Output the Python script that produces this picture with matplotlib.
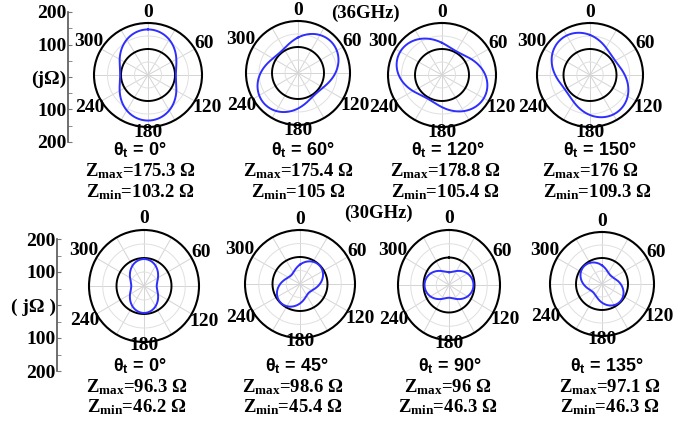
import numpy as np
import matplotlib
matplotlib.use("Agg")
import matplotlib.pyplot as plt

plt.rcParams['mathtext.fontset'] = 'custom'
plt.rcParams['mathtext.rm'] = 'Liberation Serif:bold'
plt.rcParams['mathtext.it'] = 'Liberation Serif:bold'
plt.rcParams['mathtext.bf'] = 'Liberation Serif:bold'
plt.rcParams['mathtext.sf'] = 'Liberation Sans:bold'

# 36 GHz row
theta_t_36 = [0, 60, 120, 150]
zmax_36 = [175.3, 175.4, 178.8, 176]
zmin_36 = [103.2, 105, 105.4, 109.3]
peak_36 = [0, 48, 120, 145]      # direction of the long axis

# 30 GHz row
theta_t_30 = [0, 45, 90, 135]
zmax_30 = [96.3, 98.6, 96, 97.1]
zmin_30 = [46.2, 45.4, 46.3, 46.3]
peak_30 = [0, 45, 90, 135]

angle_labels = [0, 60, 120, 180, 240, 300]
axis_ticks = [200, 100, 0, -100, -200]

W, H = 693, 421
fig = plt.figure(figsize=(W / 100, H / 100), dpi=100)

SERIF = dict(family='Liberation Serif', weight='bold')
SANS = dict(family='Liberation Sans', weight='bold')


def px_axes(cx, cy, rx, ry, **kw):
    return fig.add_axes([(cx - rx) / W, (H - cy - ry) / H, 2 * rx / W, 2 * ry / H], **kw)


def polar_plot(cx, cy, rx, ry, zmax, zmin, peak):
    ax = px_axes(cx, cy, rx, ry, projection='polar')
    ax.set_aspect('auto')
    ax.set_theta_zero_location('N')
    ax.set_theta_direction(-1)
    ax.set_ylim(0, 200)
    ax.grid(False)
    ax.set_xticks([])
    ax.set_yticks([])
    ax.spines['polar'].set_linewidth(1.5)
    full = np.linspace(0, 2 * np.pi, 361)
    for a in range(0, 360, 30):
        ax.plot([np.deg2rad(a)] * 2, [0, 200], color='#d4d4d4', lw=0.7, zorder=1)
    for rr in [50, 150]:
        ax.plot(full, [rr] * len(full), color='#e0e0e0', lw=0.7, zorder=1)
    ax.plot(full, [100] * len(full), color='black', lw=1.4, zorder=2)
    r = zmin + (zmax - zmin) * np.cos(full - np.deg2rad(peak)) ** 2
    ax.plot(full, r, color='#2e2eff', lw=1.4, zorder=3)
    ax.set_facecolor('white')
    return ax


def angle_text(cx, cy, rx, ry, d180):
    dist = {0: 1.2, 60: 1.2, 120: 1.26, 180: d180, 240: 1.24, 300: 1.27}
    for a in angle_labels:
        t = np.deg2rad(a)
        x = cx + rx * dist[a] * np.sin(t)
        y = cy - ry * dist[a] * np.cos(t)
        fig.text(x / W, 1 - y / H, str(a), ha='center', va='center', fontsize=14, **SERIF)


def caption(x, y1, y2, y3, tt, zmax, zmin):
    fig.text(x[0] / W, 1 - y1 / H, r'θ$_\mathsf{t}$ = ' + f'{tt}°', ha='center', va='center',
             fontsize=13, **SANS)
    fig.text(x[1] / W, 1 - y2 / H, r'Z$_{\rm max}$=' + f'{zmax:g} Ω', ha='center', va='center',
             fontsize=13.5, **SERIF)
    fig.text(x[2] / W, 1 - y3 / H, r'Z$_{\rm min}$=' + f'{zmin:g} Ω', ha='center', va='center',
             fontsize=13.5, **SERIF)


def side_axis(x, ytop, ybot, mid):
    ax = fig.add_axes([x / W, 1 - ybot / H, 0.001, (ybot - ytop) / H])
    ax.set_ylim(-200, 200)
    ax.set_xticks([])
    for s in ['top', 'right', 'bottom']:
        ax.spines[s].set_visible(False)
    ax.spines['left'].set_color('#555555')
    ax.spines['left'].set_linewidth(1.2)
    ax.set_yticks(axis_ticks)
    ax.set_yticklabels(['200', '100', mid, '100', '200'], fontsize=14, **SERIF)
    ax.set_yticks([150, 50, -50, -150], minor=True)
    ax.tick_params(axis='y', which='both', direction='in', length=3, color='#777777', pad=1)


# row 1 (36 GHz)
row1 = [(148, 75, 54, 52), (298, 73, 52, 52), (442, 75, 54, 52), (590, 75, 53, 52)]
cap1_x = [(140, 140, 140), (303, 298, 298), (448, 445, 445), (600, 590, 597)]
for i, (cx, cy, rx, ry) in enumerate(row1):
    polar_plot(cx, cy, rx, ry, zmax_36[i], zmin_36[i], peak_36[i])
    angle_text(cx, cy, rx, ry, 1.11)
    caption(cap1_x[i], 150, 171, 192, theta_t_36[i], zmax_36[i], zmin_36[i])

# row 2 (30 GHz)
row2 = [(144, 286, 55, 56), (300, 284, 55, 54), (449, 285, 51, 55), (602, 284, 52, 52)]
cap2_x = [(140, 137, 137), (297, 293, 293), (450, 448, 448), (607, 610, 610)]
for i, (cx, cy, rx, ry) in enumerate(row2):
    polar_plot(cx, cy, rx, ry, zmax_30[i], zmin_30[i], peak_30[i])
    angle_text(cx, cy, rx, ry, 1.06)
    caption(cap2_x[i], 366, 387, 407, theta_t_30[i], zmax_30[i], zmin_30[i])

side_axis(68, 12, 142, '(jΩ)')
side_axis(57, 239, 371, '( jΩ )')

fig.text(365 / W, 1 - 13 / H, '(36GHz)', ha='center', va='center', fontsize=13.5, **SERIF)
fig.text(378 / W, 1 - 213 / H, '(30GHz)', ha='center', va='center', fontsize=13.5, **SERIF)

fig.savefig('out.png', dpi=100, facecolor='white')
